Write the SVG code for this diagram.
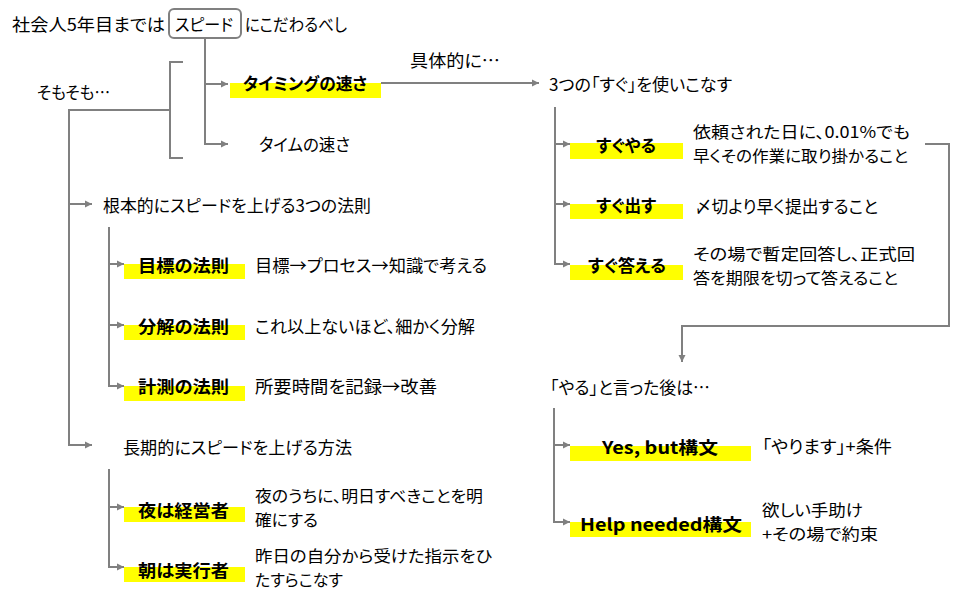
<svg xmlns="http://www.w3.org/2000/svg" width="955" height="602" viewBox="0 0 955 602">
<defs>
<style>
text{font-family:"Noto Sans CJK JP","Noto Sans",sans-serif;font-size:17px;fill:#000;font-feature-settings:"palt";}
.b{font-weight:bold;}
.m{font-size:16px;}
.hl{fill:#ffff00;}
.c{fill:none;stroke:#808080;stroke-width:2;}
</style>
<marker id="ah" markerUnits="userSpaceOnUse" markerWidth="8" markerHeight="8" refX="7" refY="4" orient="auto">
<path d="M0,0.5 L7,4 L0,7.5 Z" fill="#808080"/>
</marker>
</defs>
<rect width="955" height="602" fill="#fff"/>

<g id="title">
<text x="12" y="31" textLength="153" lengthAdjust="spacingAndGlyphs">社会人5年目までは</text>
<rect x="169" y="9" width="72" height="29" rx="5" fill="#fff" stroke="#808080" stroke-width="2"/>
<text x="175" y="31" textLength="58" lengthAdjust="spacingAndGlyphs">スピード</text>
<text x="245" y="31" textLength="102" lengthAdjust="spacingAndGlyphs">にこだわるべし</text>
</g>

<g id="connectors">
<path class="c" d="M205,38 V144 H228" marker-end="url(#ah)"/>
<path class="c" d="M205,84 H228" marker-end="url(#ah)"/>
<path class="c" d="M183,62 H170 V158 H183"/>
<path class="c" d="M170,110 H69 V445 H92" marker-end="url(#ah)"/>
<path class="c" d="M69,204 H92" marker-end="url(#ah)"/>
<path class="c" d="M381,83 H539" marker-end="url(#ah)"/>
<path class="c" d="M555,107 V264 H570" marker-end="url(#ah)"/>
<path class="c" d="M555,144 H570" marker-end="url(#ah)"/>
<path class="c" d="M555,204 H570" marker-end="url(#ah)"/>
<path class="c" d="M925,144 H949 V326 H682 V362" marker-end="url(#ah)"/>
<path class="c" d="M554,408 V522 H570" marker-end="url(#ah)"/>
<path class="c" d="M554,445 H570" marker-end="url(#ah)"/>
<path class="c" d="M109,227 V386 H124" marker-end="url(#ah)"/>
<path class="c" d="M109,264 H124" marker-end="url(#ah)"/>
<path class="c" d="M109,325 H124" marker-end="url(#ah)"/>
<path class="c" d="M109,469 V567 H124" marker-end="url(#ah)"/>
<path class="c" d="M109,507 H124" marker-end="url(#ah)"/>
</g>

<g id="somosomo">
<text x="37" y="99" textLength="73" lengthAdjust="spacingAndGlyphs">そもそも…</text>
</g>

<g id="timing">
<rect class="hl" x="230" y="83" width="151" height="15"/>
<text class="b" x="243" y="90" textLength="124" lengthAdjust="spacingAndGlyphs">タイミングの速さ</text>
</g>
<g id="gutaiteki">
<text x="410" y="67" textLength="90" lengthAdjust="spacingAndGlyphs">具体的に…</text>
</g>
<g id="time">
<text x="259" y="151" textLength="91" lengthAdjust="spacingAndGlyphs">タイムの速さ</text>
</g>

<g id="sugu3">
<text x="549" y="91" textLength="183" lengthAdjust="spacingAndGlyphs">3つの「すぐ」を使いこなす</text>
</g>
<g id="suguyaru">
<rect class="hl" x="570" y="143" width="113" height="16"/>
<text class="b" x="596" y="152" textLength="60" lengthAdjust="spacingAndGlyphs">すぐやる</text>
<text class="m" x="693" y="138" textLength="217" lengthAdjust="spacingAndGlyphs">依頼された日に、0.01%でも</text>
<text class="m" x="693" y="162" textLength="215" lengthAdjust="spacingAndGlyphs">早くその作業に取り掛かること</text>
</g>
<g id="sugudasu">
<rect class="hl" x="570" y="204" width="113" height="15"/>
<text class="b" x="596" y="212" textLength="60" lengthAdjust="spacingAndGlyphs">すぐ出す</text>
<text x="695" y="213" textLength="183" lengthAdjust="spacingAndGlyphs">〆切より早く提出すること</text>
</g>
<g id="sugukotaeru">
<rect class="hl" x="570" y="265" width="113" height="15"/>
<text class="b" x="588" y="272" textLength="78" lengthAdjust="spacingAndGlyphs">すぐ答える</text>
<text class="m" x="693" y="260" textLength="222" lengthAdjust="spacingAndGlyphs">その場で暫定回答し、正式回</text>
<text class="m" x="693" y="284" textLength="205" lengthAdjust="spacingAndGlyphs">答を期限を切って答えること</text>
</g>

<g id="konpon">
<text x="103" y="212" textLength="268" lengthAdjust="spacingAndGlyphs">根本的にスピードを上げる3つの法則</text>
</g>
<g id="mokuhyo">
<rect class="hl" x="124" y="264" width="121" height="15"/>
<text class="b" x="138" y="272" textLength="91" lengthAdjust="spacingAndGlyphs">目標の法則</text>
<text x="255" y="272" textLength="232" lengthAdjust="spacingAndGlyphs">目標→プロセス→知識で考える</text>
</g>
<g id="bunkai">
<rect class="hl" x="124" y="325" width="121" height="15"/>
<text class="b" x="138" y="333" textLength="91" lengthAdjust="spacingAndGlyphs">分解の法則</text>
<text x="255" y="333" textLength="220" lengthAdjust="spacingAndGlyphs">これ以上ないほど、細かく分解</text>
</g>
<g id="keisoku">
<rect class="hl" x="124" y="386" width="121" height="15"/>
<text class="b" x="138" y="393" textLength="91" lengthAdjust="spacingAndGlyphs">計測の法則</text>
<text x="255" y="393" textLength="182" lengthAdjust="spacingAndGlyphs">所要時間を記録→改善</text>
</g>

<g id="chouki">
<text x="123" y="454" textLength="229" lengthAdjust="spacingAndGlyphs">長期的にスピードを上げる方法</text>
</g>
<g id="yoru">
<rect class="hl" x="124" y="507" width="121" height="15"/>
<text class="b" x="138" y="517" textLength="91" lengthAdjust="spacingAndGlyphs">夜は経営者</text>
<text class="m" x="255" y="502" textLength="228" lengthAdjust="spacingAndGlyphs">夜のうちに、明日すべきことを明</text>
<text class="m" x="255" y="526" textLength="63" lengthAdjust="spacingAndGlyphs">確にする</text>
</g>
<g id="asa">
<rect class="hl" x="124" y="567" width="121" height="15"/>
<text class="b" x="138" y="577" textLength="91" lengthAdjust="spacingAndGlyphs">朝は実行者</text>
<text class="m" x="255" y="562" textLength="237" lengthAdjust="spacingAndGlyphs">昨日の自分から受けた指示をひ</text>
<text class="m" x="255" y="586" textLength="88" lengthAdjust="spacingAndGlyphs">たすらこなす</text>
</g>

<g id="yarutoitta">
<text x="550" y="394" textLength="160" lengthAdjust="spacingAndGlyphs">「やる」と言った後は…</text>
</g>
<g id="yesbut">
<rect class="hl" x="570" y="446" width="181" height="15"/>
<text class="b" x="602" y="454" textLength="116" lengthAdjust="spacingAndGlyphs">Yes, but構文</text>
<text x="762" y="453" textLength="130" lengthAdjust="spacingAndGlyphs">「やります」+条件</text>
</g>
<g id="helpneeded">
<rect class="hl" x="570" y="522" width="181" height="15"/>
<text class="b" x="580" y="531" textLength="162" lengthAdjust="spacingAndGlyphs">Help needed構文</text>
<text class="m" x="762" y="516" textLength="101" lengthAdjust="spacingAndGlyphs">欲しい手助け</text>
<text class="m" x="762" y="540" textLength="116" lengthAdjust="spacingAndGlyphs">+その場で約束</text>
</g>
</svg>
